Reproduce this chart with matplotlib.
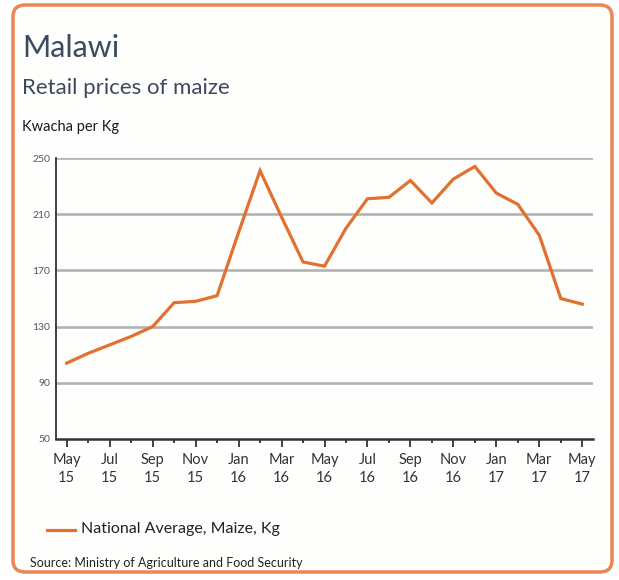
import matplotlib.pyplot as plt
from matplotlib.patches import FancyBboxPatch

# Monthly national average retail price of maize, May 2015 - May 2017
months = ['May', 'Jun', 'Jul', 'Aug', 'Sep', 'Oct', 'Nov', 'Dec',
          'Jan', 'Feb', 'Mar', 'Apr', 'May', 'Jun', 'Jul', 'Aug',
          'Sep', 'Oct', 'Nov', 'Dec', 'Jan', 'Feb', 'Mar', 'Apr', 'May']
years = ['15'] * 8 + ['16'] * 12 + ['17'] * 5
prices = [104, 111, 117, 123, 130, 147, 148, 152, 197, 241, 208, 176,
          173, 200, 221, 222, 234, 218, 235, 244, 225, 217, 195, 150, 146]
y_ticks = [50, 90, 130, 170, 210, 250]

orange = '#E2712F'
title_col = '#3B4A5E'

plt.rcParams['font.family'] = ['Lato', 'DejaVu Sans']

fig = plt.figure(figsize=(6.19, 5.8), dpi=100)
fig.patch.set_facecolor('white')

# rounded orange frame, behind the axes
frame = FancyBboxPatch((13 / 619, 8 / 580), 599 / 619, 567 / 580,
                       boxstyle='round,pad=0,rounding_size=0.02',
                       transform=fig.transFigure, facecolor='#FEFEFD',
                       edgecolor='#EB8755', linewidth=2.5, zorder=-5)
fig.patches.append(frame)

ax = fig.add_axes([56 / 619, 1 - 439 / 580, 537 / 619, 281 / 580])
ax.set_facecolor('none')

x = list(range(len(prices)))
ax.plot(x, prices, color=orange, linewidth=2.3, zorder=3,
        solid_joinstyle='miter')

ax.set_xlim(-0.5, 24.5)
ax.set_ylim(50, 250)
ax.set_yticks(y_ticks)
ax.set_yticklabels([str(v) for v in y_ticks], fontsize=7.5, color='#555555')
for v in y_ticks[1:]:
    ax.axhline(v, color='#B3B3B3', linewidth=1.9, zorder=1)

major = x[::2]
ax.set_xticks(major)
ax.set_xticklabels([f'{months[i]}\n{years[i]}' for i in major],
                   fontsize=10.5, color='#333333', linespacing=1.35)
ax.set_xticks(x[1::2], minor=True)
ax.tick_params(axis='x', which='major', length=6, width=1.3, color='#333333',
               direction='out', pad=4)
ax.tick_params(axis='x', which='minor', length=3, width=1.3, color='#333333',
               direction='out')
ax.tick_params(axis='y', length=0, pad=4)

for s in ['top', 'right']:
    ax.spines[s].set_visible(False)
ax.spines['left'].set_color('#333333')
ax.spines['left'].set_linewidth(1.3)
ax.spines['bottom'].set_color('#333333')
ax.spines['bottom'].set_linewidth(1.8)

fig.text(22 / 619, 1 - 48 / 580, 'Malawi', fontsize=22, color=title_col,
         va='center', ha='left')
fig.text(22 / 619, 1 - 88 / 580, 'Retail prices of maize', fontsize=16,
         color=title_col, va='center', ha='left')
fig.text(22 / 619, 1 - 127 / 580, 'Kwacha per Kg', fontsize=10.5,
         color='#1A1A1A', va='center', ha='left')

# legend
fig.lines.append(plt.Line2D([47 / 619, 75 / 619], [1 - 530 / 580, 1 - 530 / 580],
                            transform=fig.transFigure, color=orange,
                            linewidth=2.3))
fig.text(81 / 619, 1 - 529 / 580, 'National Average, Maize, Kg', fontsize=11.5,
         color='#222222', va='center', ha='left')
fig.text(30 / 619, 1 - 563 / 580, 'Source: Ministry of Agriculture and Food Security',
         fontsize=9, color='#222222', va='center', ha='left')

fig.savefig('out.png', dpi=100)
